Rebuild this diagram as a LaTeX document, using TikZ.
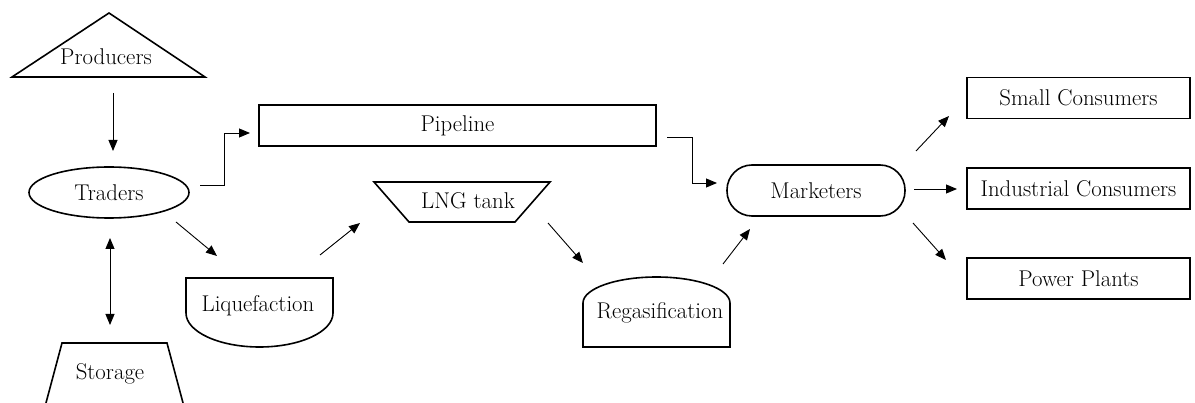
\documentclass[tikz,border=0pt]{standalone}
\usetikzlibrary{arrows.meta,shapes.geometric}
\begin{document}
\begin{tikzpicture}[x=1pt,y=-1pt,
  shp/.style={draw, line width=1.6pt},
  conn/.style={line width=0.9pt, -{Triangle[length=11pt,width=9pt]}},
  dconn/.style={line width=0.9pt, {Triangle[length=11pt,width=9pt]}-{Triangle[length=11pt,width=9pt]}},
  lbl/.style={font=\rmfamily\fontsize{22.8}{27}\selectfont, inner sep=0pt},
  box/.style={shp, rectangle, minimum height=41pt, lbl}]
\useasboundingbox (0,0) rectangle (1195,403);
% shapes
\draw[shp] (109,13) -- (205,77) -- (12,77) -- cycle;
\node[lbl] (producers) at (106,57) {Producers};
\node[shp, ellipse, minimum width=160pt, minimum height=51pt, lbl] (traders) at (109,192.5) {Traders};
\draw[shp] (43.3,413) -- (62,343) -- (167,343) -- (185.7,413);
\node[lbl] (storage) at (110,374) {Storage};
\draw[shp] (186,313) -- (186,278) -- (333,278) -- (333,313) arc[start angle=0, end angle=180, x radius=73.5, y radius=34];
\node[lbl] (liq) at (258,306) {Liquefaction};
\draw[shp] (374,182) -- (550,182) -- (515,222) -- (409,222) -- cycle;
\node[lbl] (lng) at (468,201) {LNG tank};
\draw[shp] (583,303) -- (583,347) -- (730,347) -- (730,303) arc[start angle=0, end angle=-180, x radius=73.5, y radius=26];
\node[lbl] (regas) at (660,313) {Regasification};
\node[box, minimum width=397pt] (pipeline) at (457.5,125.5) {Pipeline};
\node[shp, rounded corners=25pt, minimum width=178pt, minimum height=51pt, lbl] (marketers) at (816,190.5) {Marketers};
\node[box, minimum width=223pt] (small) at (1078.5,98) {Small Consumers};
\node[box, minimum width=223pt] (industrial) at (1078.5,188.5) {Industrial Consumers};
\node[box, minimum width=223pt] (power) at (1078.5,278.5) {Power Plants};
% connector ends
\coordinate (a1) at (113,93);   \coordinate (a2) at (113,151);
\coordinate (b1) at (200,185);  \coordinate (b2) at (224,133); \coordinate (b3) at (250,133);
\coordinate (c1) at (110,238);  \coordinate (c2) at (110,325);
\coordinate (d1) at (176,222);  \coordinate (d2) at (217,256);
\coordinate (e1) at (320,255);  \coordinate (e2) at (360,223);
\coordinate (f1) at (548,223);  \coordinate (f2) at (583,263);
\coordinate (g1) at (667,137);  \coordinate (g2) at (692,183); \coordinate (g3) at (717,183);
\coordinate (h1) at (723,264);  \coordinate (h2) at (750,229);
\coordinate (i1) at (916,151);  \coordinate (i2) at (949,116);
\coordinate (j1) at (914,189);  \coordinate (j2) at (957,189);
\coordinate (k1) at (913,223);  \coordinate (k2) at (946,260);
% connectors
\draw[conn] (a1) -- (a2);
\draw[conn] (b1) -| (b2) -- (b3);
\draw[dconn] (c1) -- (c2);
\draw[conn] (d1) -- (d2);
\draw[conn] (e1) -- (e2);
\draw[conn] (f1) -- (f2);
\draw[conn] (g1) -| (g2) -- (g3);
\draw[conn] (h1) -- (h2);
\draw[conn] (i1) -- (i2);
\draw[conn] (j1) -- (j2);
\draw[conn] (k1) -- (k2);
\end{tikzpicture}
\end{document}
